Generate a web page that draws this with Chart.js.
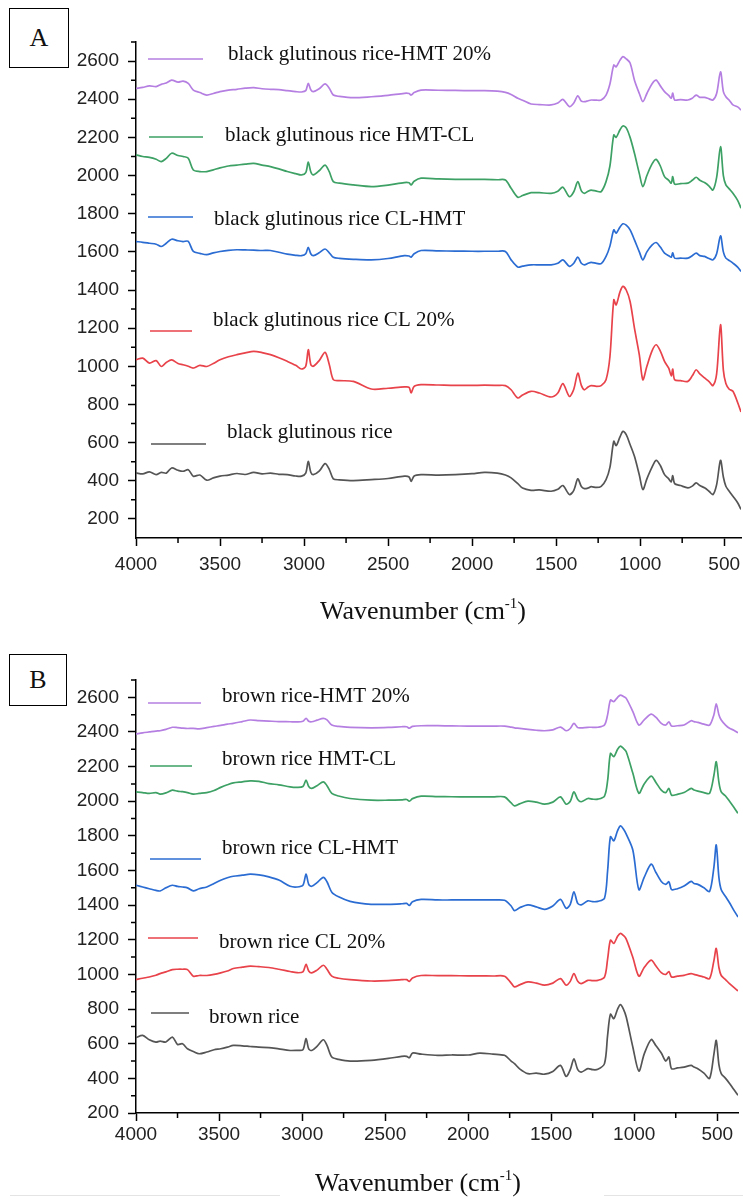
<!DOCTYPE html>
<html><head><meta charset="utf-8">
<script src="https://cdn.jsdelivr.net/npm/chart.js@4/dist/chart.umd.min.js"></script>
<style>
html,body{margin:0;padding:0;background:#fff;}
body{width:743px;height:1199px;position:relative;overflow:hidden;font-family:"Liberation Serif","Times New Roman",serif;color:#111;}
.wrap{position:absolute;left:0;width:743px;}
#wa{top:0;height:600px;}
#wb{top:620px;height:560px;}
.panel{position:absolute;box-sizing:border-box;border:1px solid #000;font-size:26px;display:flex;align-items:center;justify-content:center;background:#fff;}
.xt{position:absolute;font-size:26px;line-height:30px;white-space:nowrap;transform:translateX(-50%);}
.xt sup{font-size:15px;vertical-align:11px;line-height:0;}
.rule{position:absolute;height:1px;background:#e4e4e4;top:1195px;}
</style></head><body>
<div class="wrap" id="wa"><canvas id="ca"></canvas></div>
<div class="wrap" id="wb"><canvas id="cb"></canvas></div>
<div class="panel" style="left:9px;top:8px;width:60px;height:60px;">A</div>
<div class="panel" style="left:9px;top:654px;width:58px;height:52px;">B</div>
<div class="xt" style="left:423px;top:596px;">Wavenumber (cm<sup>-1</sup>)</div>
<div class="xt" style="left:418px;top:1168px;">Wavenumber (cm<sup>-1</sup>)</div>
<div class="rule" style="left:10px;width:270px;"></div>
<div class="rule" style="left:604px;width:139px;"></div>
<script>
// ---------- Panel A: black glutinous rice ----------
const wnA = [4000,3960,3920,3880,3850,3820,3788,3750,3720,3689,
 3659,3620,3579,3540,3500,3450,3400,3350,3300,3250,
 3200,3150,3100,3050,3015,2990,2975,2960,2945,2910,
 2875,2850,2826,2790,2707,2600,2500,2403,2375,2363,
 2345,2304,2200,2100,2000,1927,1850,1802,1768,1728,
 1700,1649,1600,1530,1490,1460,1421,1395,1371,1350,
 1332,1310,1292,1260,1232,1203,1180,1157,1143,1120,
 1103,1083,1060,1034,1005,984,960,930,905,880,
 855,830,815,806,795,760,716,690,667,645,
 617,590,567,545,522,505,490,470,448,420,
 400];
const bgRiceHMT = [2457,2462,2470,2466,2478,2485,2500,2490,2495,2483,
 2448,2435,2422,2430,2440,2448,2452,2458,2461,2455,
 2452,2450,2445,2440,2438,2445,2483,2450,2440,2455,
 2480,2458,2422,2415,2408,2413,2420,2431,2430,2422,
 2435,2448,2447,2446,2445,2445,2442,2436,2425,2405,
 2395,2375,2372,2370,2380,2399,2361,2380,2418,2390,
 2387,2392,2396,2395,2396,2422,2480,2579,2570,2605,
 2623,2612,2590,2500,2430,2387,2430,2480,2500,2470,
 2440,2420,2405,2432,2396,2398,2396,2405,2422,2410,
 2410,2402,2396,2430,2544,2440,2413,2395,2370,2360,
 2343];
const bgRiceHMTCL = [2108,2100,2095,2085,2073,2090,2117,2105,2100,2091,
 2029,2021,2021,2030,2040,2050,2055,2060,2064,2055,
 2047,2035,2021,2010,2003,2015,2070,2020,2003,2025,
 2055,2020,1968,1960,1951,1942,1950,1963,1962,1951,
 1970,1986,1982,1980,1980,1980,1978,1977,1933,1886,
 1895,1910,1910,1907,1918,1939,1889,1915,1968,1920,
 1907,1918,1924,1918,1916,1968,2050,2213,2200,2240,
 2260,2250,2200,2117,2010,1942,2000,2060,2085,2050,
 1994,1975,1960,1995,1955,1958,1960,1975,1991,1975,
 1963,1945,1924,1990,2151,2000,1951,1930,1907,1870,
 1829];
const bgRiceCLHMT = [1654,1650,1645,1640,1628,1645,1666,1658,1654,1655,
 1602,1592,1585,1595,1602,1608,1611,1610,1609,1607,
 1607,1598,1588,1582,1580,1590,1624,1590,1580,1595,
 1615,1595,1572,1566,1561,1558,1565,1580,1578,1572,
 1590,1607,1605,1604,1603,1603,1603,1602,1558,1520,
 1525,1532,1532,1532,1540,1558,1524,1540,1572,1540,
 1532,1540,1545,1540,1538,1576,1630,1715,1698,1730,
 1747,1740,1715,1663,1600,1558,1600,1635,1649,1625,
 1593,1580,1572,1595,1567,1567,1567,1580,1593,1580,
 1576,1565,1558,1590,1684,1600,1567,1555,1541,1520,
 1497];
const bgRiceCL = [1034,1043,1017,1030,999,1020,1034,1015,1008,1000,
 991,1005,999,1015,1034,1050,1061,1070,1078,1072,
 1061,1045,1026,1005,986,1000,1087,1010,1000,1030,
 1073,1010,930,925,921,881,885,892,890,860,
 895,904,902,900,900,901,900,899,877,834,
 850,869,860,839,860,909,842,880,964,900,
 877,892,899,895,899,930,1050,1349,1322,1390,
 1419,1400,1340,1200,1060,930,1000,1080,1113,1080,
 1026,990,950,985,930,925,921,950,982,960,
 939,920,899,960,1218,980,910,880,869,810,
 760];
const bgRice = [441,436,447,432,444,440,467,455,450,458,
 424,430,403,415,424,430,438,433,444,436,
 440,434,432,425,424,440,502,445,432,450,
 490,460,410,405,401,406,412,424,420,397,
 425,432,430,432,437,444,440,430,415,385,
 362,350,352,345,355,375,328,350,410,370,
 359,362,369,365,371,406,470,607,584,630,
 659,642,590,528,430,354,410,470,507,480,
 432,410,395,427,385,375,363,372,389,375,
 363,345,328,380,507,420,371,345,319,285,
 250];
const labelsA = ['black glutinous rice-HMT 20%','black glutinous rice HMT-CL','black glutinous rice CL-HMT','black glutinous rice CL 20%','black glutinous rice'];

// ---------- Panel B: brown rice ----------
const wnB = [4000,3960,3920,3880,3855,3820,3781,3750,3720,3690,
 3655,3620,3574,3530,3490,3450,3414,3360,3313,3260,
 3200,3140,3072,3030,2995,2976,2960,2942,2910,2872,
 2850,2821,2780,2711,2584,2480,2400,2370,2354,2335,
 2283,2183,2100,2000,1930,1850,1781,1741,1721,1690,
 1640,1590,1540,1490,1444,1410,1385,1363,1340,1319,
 1279,1250,1219,1179,1160,1143,1123,1100,1083,1065,
 1048,1008,972,940,898,870,837,810,791,775,
 740,700,657,640,617,580,546,520,506,490,
 476,450,426,400,375];
const brRiceHMT = [2388,2395,2400,2405,2407,2415,2427,2425,2422,2420,
 2421,2418,2425,2432,2438,2445,2450,2460,2469,2466,
 2463,2460,2459,2458,2462,2479,2462,2459,2468,2479,
 2470,2440,2432,2427,2424,2426,2430,2430,2422,2432,
 2436,2436,2435,2434,2434,2434,2434,2428,2424,2421,
 2415,2410,2407,2412,2428,2407,2420,2450,2425,2424,
 2427,2427,2427,2440,2500,2584,2575,2600,2613,2605,
 2594,2517,2440,2470,2503,2485,2450,2440,2459,2434,
 2436,2440,2465,2460,2455,2445,2440,2500,2562,2500,
 2469,2440,2421,2410,2395];
const brRiceHMTCL = [2054,2050,2045,2050,2041,2048,2064,2058,2055,2050,
 2041,2045,2050,2062,2080,2095,2106,2112,2118,2115,
 2102,2095,2083,2080,2085,2122,2085,2074,2090,2112,
 2090,2045,2030,2016,2006,2006,2008,2010,2000,2015,
 2029,2027,2026,2025,2025,2025,2025,1990,1973,1985,
 2001,1995,1983,1995,2025,1983,2000,2054,2010,1997,
 2016,2012,2012,2030,2120,2276,2257,2300,2318,2305,
 2286,2161,2046,2100,2145,2110,2064,2050,2074,2035,
 2040,2050,2074,2065,2058,2050,2046,2150,2228,2110,
 2054,2030,2000,1965,1930];
const brRiceCLHMT = [1515,1505,1495,1485,1482,1500,1515,1508,1505,1500,
 1482,1495,1505,1525,1544,1558,1567,1573,1579,1575,
 1563,1545,1509,1505,1515,1579,1520,1509,1530,1560,
 1535,1475,1448,1422,1405,1405,1408,1410,1398,1420,
 1433,1430,1430,1430,1430,1430,1428,1395,1368,1385,
 1402,1390,1376,1395,1433,1382,1405,1477,1410,1402,
 1425,1420,1422,1440,1600,1795,1772,1830,1858,1840,
 1810,1717,1489,1560,1637,1590,1537,1520,1535,1490,
 1495,1510,1537,1525,1520,1500,1479,1620,1748,1560,
 1489,1450,1414,1370,1332];
const brRiceCL = [970,978,985,995,1005,1015,1028,1030,1030,1028,
 990,994,994,1000,1009,1020,1034,1042,1048,1045,
 1040,1030,1017,1010,1015,1059,1020,1009,1025,1053,
 1030,990,978,970,962,964,970,970,960,980,
 994,993,993,992,992,991,990,950,928,940,
 957,950,938,950,976,938,960,1005,960,947,
 966,964,966,985,1090,1198,1179,1220,1237,1225,
 1204,1098,990,1040,1083,1050,1010,1000,1017,985,
 990,995,1005,1000,995,985,976,1080,1150,1040,
 994,970,947,925,905];
const brRice = [635,648,623,609,615,610,638,596,600,571,
 555,542,552,565,571,580,590,588,584,580,
 578,570,561,562,565,629,570,561,585,623,
 590,523,510,500,504,515,527,527,519,546,
 540,533,535,535,546,540,533,500,485,455,
 427,430,424,440,475,411,450,513,450,436,
 456,450,452,485,650,770,745,800,826,800,
 754,580,442,540,624,590,546,500,523,456,
 460,465,475,465,456,430,400,540,619,480,
 427,400,371,335,303];
const labelsB = ['brown rice-HMT 20%','brown rice HMT-CL','brown rice CL-HMT','brown rice CL 20%','brown rice'];

// ---------- ticks ----------
const xTicks = [500,1000,1500,2000,2500,3000,3500,4000];
const xMinorTicks = [750,1250,1750,2250,2750,3250,3750];
const yTicks = [200,400,600,800,1000,1200,1400,1600,1800,2000,2200,2400,2600];
const yMinorTicks = [100,300,500,700,900,1100,1300,1500,1700,1900,2100,2300,2500,2700];

const seriesColors = ['#b57fe2','#3da064','#2b6cd2','#e8424a','#555555'];

Chart.defaults.font.family = '"Liberation Sans", Arial, sans-serif';
Chart.defaults.devicePixelRatio = 1;

const minorTickPlugin = {
  id: 'minorTicks',
  afterDraw(chart, args, opts) {
    const ctx = chart.ctx, xs = chart.scales.x, ys = chart.scales.y;
    ctx.save();
    ctx.strokeStyle = '#000'; ctx.lineWidth = 1.5;
    ctx.beginPath();
    xMinorTicks.forEach(v => {
      if (v < xs.min || v > xs.max) return;
      const p = xs.getPixelForValue(v);
      ctx.moveTo(p, xs.top); ctx.lineTo(p, xs.top + opts.len);
    });
    yMinorTicks.forEach(v => {
      if (v <= ys.min || v > ys.max) return;
      const p = ys.getPixelForValue(v);
      ctx.moveTo(ys.right, p); ctx.lineTo(ys.right - opts.len, p);
    });
    ctx.stroke();
    ctx.restore();
  }
};

const inlineLegendPlugin = {
  id: 'inlineLegend',
  afterDatasetsDraw(chart, args, opts) {
    const ctx = chart.ctx;
    ctx.save();
    ctx.font = opts.font;
    ctx.textBaseline = 'middle';
    ctx.textAlign = 'left';
    chart.data.datasets.forEach((ds, i) => {
      const p = opts.pos[i];
      ctx.strokeStyle = ds.borderColor; ctx.lineWidth = 1.6;
      ctx.beginPath(); ctx.moveTo(p.x0, p.ly); ctx.lineTo(p.x1, p.ly); ctx.stroke();
      ctx.fillStyle = '#111';
      ctx.fillText(ds.label, p.tx, p.ty);
    });
    ctx.restore();
  }
};

function build(id, wn, series, labels, cfg) {
  const datasets = series.map((s, i) => ({
    label: labels[i],
    data: wn.map((w, j) => ({x: w, y: s[j]})),
    borderColor: seriesColors[i],
    borderWidth: 1.7,
    pointRadius: 0,
    fill: false,
    tension: 0.3
  }));
  return new Chart(document.getElementById(id), {
    type: 'line',
    data: {datasets},
    plugins: [minorTickPlugin, inlineLegendPlugin],
    options: {
      responsive: true,
      maintainAspectRatio: false,
      animation: false,
      layout: {padding: cfg.padding},
      plugins: {
        legend: {display: false},
        tooltip: {enabled: false},
        minorTicks: {len: 5},
        inlineLegend: {font: '21px "Liberation Serif", "Times New Roman", serif', pos: cfg.legendPos}
      },
      scales: {
        x: {
          type: 'linear', reverse: true, min: cfg.xMin, max: 4000,
          afterBuildTicks: s => { s.ticks = xTicks.map(v => ({value: v})); },
          afterFit: s => { s.height = cfg.xHeight; },
          ticks: {color: '#222', font: {size: 19}, padding: cfg.xPad, maxRotation: 0, autoSkip: false, callback: v => String(v)},
          grid: {display: true, drawOnChartArea: false, drawTicks: true, tickLength: 8, tickColor: '#000', tickWidth: 1.5},
          border: {display: true, color: '#000', width: 1.5}
        },
        y: {
          type: 'linear', min: cfg.yMin, max: 2700,
          afterBuildTicks: s => { s.ticks = yTicks.map(v => ({value: v})); },
          afterFit: s => { s.width = 136; },
          ticks: {color: '#222', font: {size: 19}, padding: 9, autoSkip: false, callback: v => String(v)},
          grid: {display: true, drawOnChartArea: false, drawTicks: true, tickLength: 8, tickColor: '#000', tickWidth: 1.5},
          border: {display: true, color: '#000', width: 1.5}
        }
      }
    }
  });
}

build('ca', wnA, [bgRiceHMT, bgRiceHMTCL, bgRiceCLHMT, bgRiceCL, bgRice], labelsA, {
  padding: {top: 42, right: 2, left: 0, bottom: 0},
  xMin: 400, yMin: 100, xHeight: 62, xPad: 7,
  legendPos: [
    {x0:148, x1:203, ly:59, tx:228, ty:54},
    {x0:149, x1:203, ly:137, tx:225, ty:135},
    {x0:148, x1:193, ly:217, tx:214, ty:219},
    {x0:150, x1:192, ly:331, tx:213, ty:320},
    {x0:151, x1:206, ly:444, tx:227, ty:432}
  ]
});
build('cb', wnB, [brRiceHMT, brRiceHMTCL, brRiceCLHMT, brRiceCL, brRice], labelsB, {
  padding: {top: 60, right: 5, left: 0, bottom: 0},
  xMin: 375, yMin: 200, xHeight: 67, xPad: 2,
  legendPos: [
    {x0:148, x1:201, ly:83, tx:222, ty:76},
    {x0:150, x1:192, ly:146, tx:222, ty:139},
    {x0:150, x1:201, ly:239, tx:222, ty:228},
    {x0:148, x1:198, ly:318, tx:219, ty:322},
    {x0:151, x1:189, ly:393, tx:209, ty:397}
  ]
});
</script>
</body></html>
